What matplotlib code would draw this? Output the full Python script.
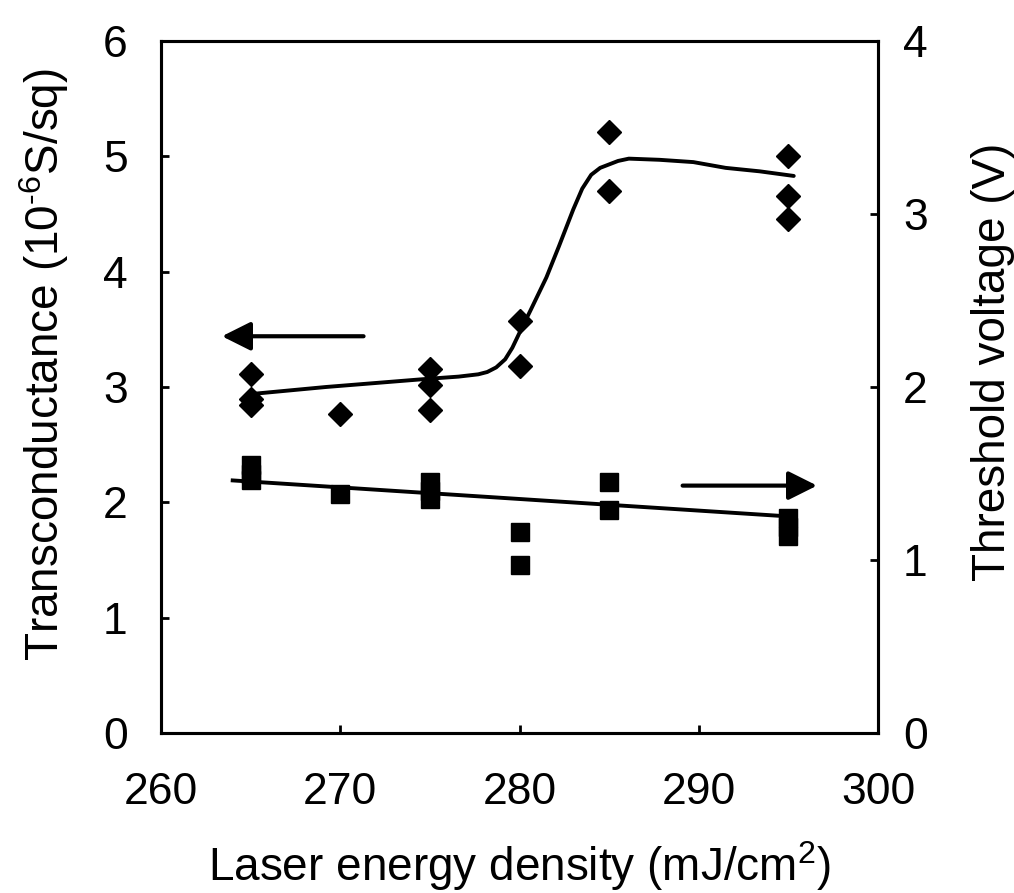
import matplotlib
matplotlib.use('Agg')
from matplotlib import pyplot as plt

# measured points (left axis, diamonds)
gm_x = [265, 265, 265, 270, 275, 275, 275, 280, 280, 285, 285, 295, 295, 295]
gm_y = [3.11, 2.90, 2.84, 2.77, 3.16, 3.02, 2.80, 3.57, 3.18, 5.21, 4.70, 5.00, 4.66, 4.46]

# smoothed guide line through transconductance
gm_fit_x = [265.1, 269.2, 274.8, 276.6, 277.7, 278.2, 278.7, 279.2, 279.6, 280.0,
            280.6, 281.5, 282.2, 283.0, 283.5, 284.0, 284.5, 285.0, 285.5, 286.1,
            287.8, 289.7, 291.5, 293.4, 295.3]
gm_fit_y = [2.94, 3.00, 3.07, 3.09, 3.11, 3.13, 3.17, 3.24, 3.34, 3.47,
            3.66, 3.95, 4.22, 4.54, 4.72, 4.84, 4.90, 4.93, 4.96, 4.98,
            4.97, 4.95, 4.90, 4.87, 4.83]

# threshold voltage (right axis, squares)
vt_x = [265, 265, 265, 270, 275, 275, 275, 280, 280, 285, 285, 295, 295, 295]
vt_y = [1.55, 1.50, 1.46, 1.38, 1.45, 1.40, 1.35, 1.16, 0.97, 1.45, 1.29, 1.24, 1.19, 1.14]

# linear trend line for threshold voltage
vt_fit_x = [264.0, 295.3]
vt_fit_y = [1.46, 1.25]

plt.rcParams['font.family'] = ['Liberation Sans', 'DejaVu Sans']
plt.rcParams['mathtext.fontset'] = 'custom'
plt.rcParams['mathtext.rm'] = 'Liberation Sans'
plt.rcParams['mathtext.it'] = 'Liberation Sans:italic'

fig = plt.figure(figsize=(10.14, 8.93), dpi=100)
ax = fig.add_axes([161 / 1014, 160 / 893, 717 / 1014, 692 / 893])
ax2 = ax.twinx()

ax.plot(gm_fit_x, gm_fit_y, color='black', lw=2.8, solid_capstyle='round')
ax.plot(gm_x, gm_y, 'D', color='black', ms=12, mec='black')

ax2.plot(vt_fit_x, vt_fit_y, color='black', lw=2.8)
ax2.plot(vt_x, vt_y, 's', color='black', ms=13, mec='black')

ax.set_xlim(260, 300)
ax.set_ylim(0, 6)
ax2.set_ylim(0, 4)
ax.set_xticks([260, 270, 280, 290, 300])
ax.set_yticks(range(0, 7))
ax2.set_yticks(range(0, 5))

for a in (ax, ax2):
    for s in a.spines.values():
        s.set_linewidth(2.2)

ax.tick_params(axis='x', direction='in', length=6, width=2, labelsize=32, pad=28)
ax.tick_params(axis='y', direction='in', length=6, width=2, labelsize=32, pad=24)
ax2.tick_params(axis='y', direction='in', length=6, width=2, labelsize=32, pad=18)

ax.set_xlabel('Laser energy density (mJ/cm$^2$)', fontsize=33, va='center')
ax.xaxis.set_label_coords(0.50, -0.192)
ax.set_ylabel('Transconductance (10$^{\\text{-}6}$S/sq)', fontsize=33, va='center')
ax.yaxis.set_label_coords(-0.163, 0.533)
ax2.set_ylabel('Threshold voltage (V)', fontsize=33, va='center')
ax2.yaxis.set_label_coords(1.161, 0.536)

# arrows telling which axis each series belongs to
arrow = dict(arrowstyle='-|>,head_length=0.7,head_width=0.35', color='black',
             lw=3, mutation_scale=25, shrinkA=0, shrinkB=0)
ax.annotate('', xy=(263.4, 3.44), xytext=(271.3, 3.44), arrowprops=arrow)
ax2.annotate('', xy=(296.6, 1.43), xytext=(289.1, 1.43), arrowprops=arrow)

fig.savefig('out.png', dpi=100)
